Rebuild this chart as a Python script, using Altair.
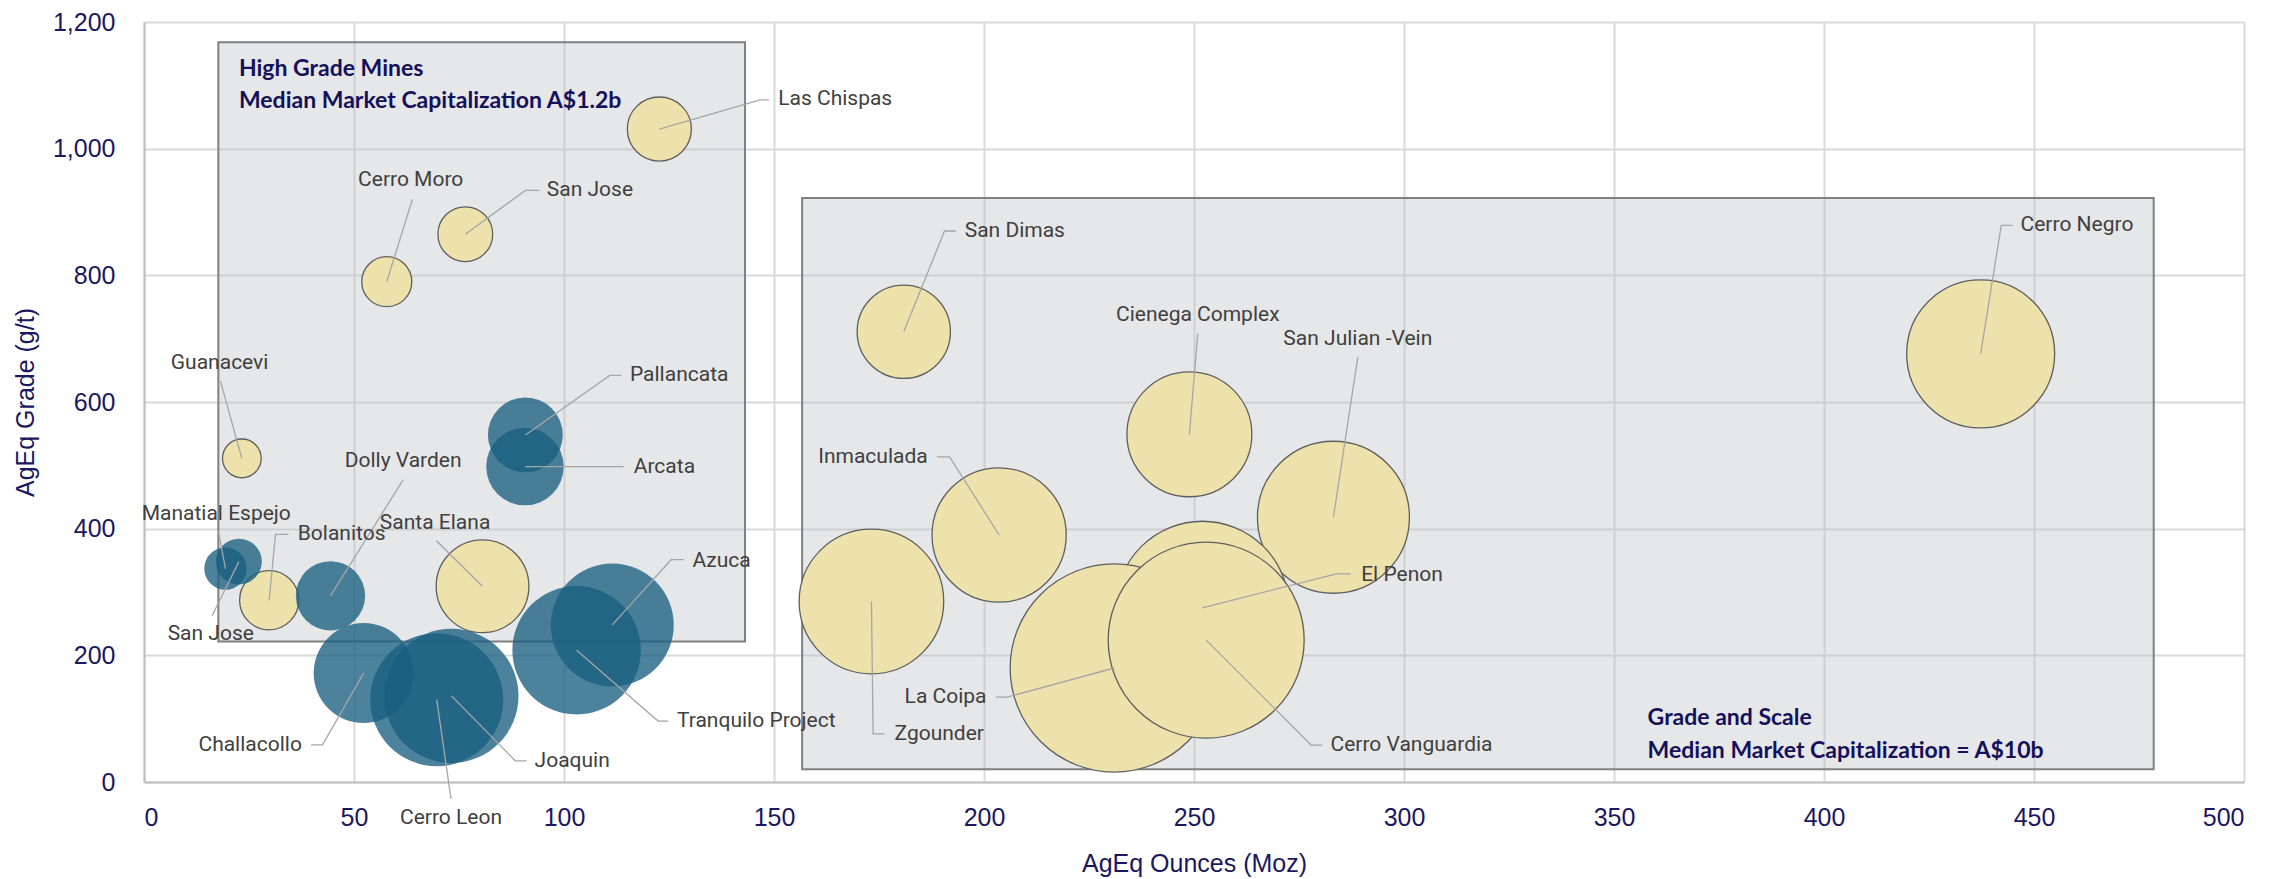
import altair as alt
import pandas as pd

# ---------------- data ----------------
names = ["Las Chispas", "San Jose", "Cerro Moro", "Guanacevi", "Bolanitos", "Santa Elana",
         "San Dimas", "Cienega Complex", "San Julian  -Vein", "Inmaculada", "Zgounder",
         "El Penon", "La Coipa", "Cerro Vanguardia", "Cerro Negro",
         "Pallancata", "Arcata", "Manatial Espejo", "San Jose ", "Dolly Varden", "Challacollo",
         "Cerro Leon", "Joaquin", "Tranquilo Project", "Azuca"]
group = ["gold"] * 15 + ["blue"] * 10
ounces = [122.7, 76.5, 57.8, 23.3, 29.8, 80.6,
          180.9, 248.9, 283.2, 203.6, 173.2,
          252.0, 231.0, 252.9, 437.3,
          90.8, 90.7, 19.4, 22.6, 44.4, 52.3,
          69.7, 73.2, 103.0, 111.5]
grade = [1031, 865, 790, 511, 287, 309,
         711, 549, 418, 390, 285,
         275, 180, 224, 676,
         548, 498, 337, 348, 294, 172,
         130, 136, 208, 248]
bubble = [41, 30, 25, 15, 35, 86,
          87, 156, 231, 180, 209,
          300, 433, 384, 219,
          56, 60, 18, 21, 48, 100,
          177, 180, 165, 151]

lab_text = ["Las Chispas", "San Jose", "Cerro Moro", "Guanacevi", "Pallancata", "Arcata",
            "Dolly Varden", "Manatial Espejo", "Bolanitos", "Santa Elana", "San Jose", "Azuca",
            "Challacollo", "Cerro Leon", "Joaquin", "Tranquilo Project", "San Dimas",
            "Cienega Complex", "San Julian  -Vein", "Inmaculada", "El Penon", "La Coipa",
            "Zgounder", "Cerro Vanguardia", "Cerro Negro"]
lab_x = [151, 95.9, 63.5, 18, 115.7, 116.6,
         61.7, 17.2, 36.6, 69.3, 15.9, 130.6,
         37.6, 73.1, 93, 126.9, 195.4,
         250.9, 289, 186.6, 289.8, 200.6,
         178.7, 282.5, 446.8]
lab_y = [1078, 934, 950, 662, 642, 498,
         507, 423, 391, 409, 233, 349,
         58.6, -57.5, 33.5, 96.2, 870,
         737, 699.5, 513.5, 327.4, 134,
         75.9, 58.3, 879]
lab_align = ["left", "left", "center", "center", "left", "left",
             "center", "center", "left", "center", "center", "left",
             "right", "center", "left", "left", "left",
             "center", "center", "right", "left", "right",
             "left", "left", "left"]

leader_x = [[122.7, 146.7, 148.8], [76.5, 90.8, 94.1], [57.8, 63.9], [23.3, 18.2],
            [90.8, 110.9, 113.7], [90.7, 114.2], [44.4, 61.7], [19.4, 17.7],
            [29.8, 31.3, 34.4], [80.6, 69.6], [22.6, 16.2], [111.5, 125.5, 128.5],
            [52.3, 42.5, 39.8], [69.7, 73.1], [73.2, 88.4, 91.1], [103.0, 122.4, 124.8],
            [180.9, 190.6, 193.3], [248.9, 250.9], [283.2, 289.0], [203.6, 191.8, 188.8],
            [252.0, 283.9, 287.3], [231.0, 205.5, 202.8], [173.2, 173.6, 176.3],
            [252.9, 277.9, 280.5], [437.3, 442.2, 444.9]]
leader_y = [[1031, 1077, 1077], [865, 934, 934], [790, 920], [511, 633],
            [548, 642, 642], [498, 498], [294, 477], [337, 396],
            [287, 391, 391], [309, 381], [348, 262.5], [248, 351, 351],
            [172, 58.6, 58.6], [130, -26.7], [136, 33.5, 33.5], [208, 96.2, 96.2],
            [711, 870, 870], [549, 708], [418, 671], [390, 513.5, 513.5],
            [275, 328.7, 328.7], [180, 134, 134], [285, 75.9, 75.9],
            [224, 58.3, 58.3], [676, 879, 879]]

box_x1 = [17.7, 156.7]
box_x2 = [143.1, 478.5]
box_y1 = [222, 20]
box_y2 = [1168, 922]

note_text = ["High Grade Mines", "Median Market Capitalization A$1.2b",
             "Grade and Scale", "Median Market Capitalization = A$10b"]
note_x = [22.6, 22.6, 358, 358]
note_y = [1126, 1076, 100.6, 48.9]

# ---------------- tables ----------------
bub = pd.DataFrame({"name": names, "group": group, "x": ounces, "y": grade,
                    "bubble": bubble, "order": list(range(len(names)))})
labs = pd.DataFrame({"text": lab_text, "x": lab_x, "y": lab_y, "align": lab_align})
rows = []
for i, (lx, ly) in enumerate(zip(leader_x, leader_y)):
    for j, (a, b) in enumerate(zip(lx, ly)):
        rows.append({"id": i, "seq": j, "x": a, "y": b})
lead = pd.DataFrame(rows)
boxes = pd.DataFrame({"x": box_x1, "x2": box_x2, "y": box_y1, "y2": box_y2})
notes = pd.DataFrame({"text": note_text, "x": note_x, "y": note_y})

NAVY = "#1b1760"
W, H = 2100, 760
xs = alt.Scale(domain=[0, 500], nice=False, zero=False)
ys = alt.Scale(domain=[0, 1200], nice=False, zero=False)
ax_x = alt.Axis(title="AgEq Ounces (Moz)", values=list(range(0, 501, 50)), grid=True,
                gridColor="#d9d9d9", gridWidth=2, domainColor="#bfbfbf", domainWidth=2,
                ticks=False, labelFont="Liberation Sans", labelFontSize=25, labelColor=NAVY,
                labelPadding=23, titleFont="Liberation Sans", titleFontSize=25,
                titleColor=NAVY, titleFontWeight="normal", titleY=81, titleBaseline="middle")
ax_y = alt.Axis(title="AgEq Grade (g/t)", values=list(range(0, 1201, 200)), format=",d",
                grid=True, gridColor="#d9d9d9", gridWidth=2, domainColor="#bfbfbf",
                domainWidth=2, ticks=False, labelFont="Liberation Sans", labelFontSize=25,
                labelColor=NAVY, labelPadding=29, titleFont="Liberation Sans",
                titleFontSize=25, titleColor=NAVY, titleFontWeight="normal",
                titleX=-119, titleY=H / 2, titleAngle=-90, titleBaseline="middle",
                titleAlign="center")


def X(f="x"):
    return alt.X(f"{f}:Q", scale=xs, axis=ax_x)


def Y(f="y"):
    return alt.Y(f"{f}:Q", scale=ys, axis=ax_y)


box_layer = alt.Chart(boxes).mark_rect(fill="#b9bcc3", fillOpacity=0.36, stroke="#808080",
                                       strokeWidth=2).encode(
    x=X(), x2="x2:Q", y=Y(), y2="y2:Q")

note_layer = alt.Chart(notes).mark_text(align="left", baseline="middle", font="Lato",
                                        fontWeight="bold", fontSize=23, color="#15105a").encode(
    x=X(), y=Y(), text="text:N")

size_enc = alt.Size("bubble:Q", scale=alt.Scale(domain=[0, 450], range=[0, 45000]), legend=None)

gold_layer = alt.Chart(bub).transform_filter(alt.datum.group == "gold").mark_circle(
    color="#ede1ac", opacity=1, stroke="#5f5f5f", strokeWidth=1.3).encode(
    x=X(), y=Y(), size=size_enc, order="order:Q")

blue_layer = alt.Chart(bub).transform_filter(alt.datum.group == "blue").mark_circle(
    color="#1a5f80", opacity=0.78).encode(
    x=X(), y=Y(), size=size_enc, order="order:Q")

lead_layer = alt.Chart(lead).mark_line(color="#a6a6a6", strokeWidth=1.3).encode(
    x=X(), y=Y(), detail="id:N", order="seq:Q")

label_layers = []
for al in ["left", "center", "right"]:
    label_layers.append(
        alt.Chart(labs).transform_filter(alt.datum.align == al).mark_text(
            align=al, baseline="middle", font="Roboto", fontSize=21, color="#404040").encode(
            x=X(), y=Y(), text="text:N"))

chart = alt.layer(box_layer, gold_layer, blue_layer, note_layer, lead_layer,
                  *label_layers).properties(
    width=W, height=H,
    autosize=alt.AutoSizeParams(type="none"),
    padding={"left": 136, "top": 14, "right": 30, "bottom": 100},
).configure_view(stroke=None)

chart.save("out.html", embed_options={"renderer": "svg", "actions": False})
